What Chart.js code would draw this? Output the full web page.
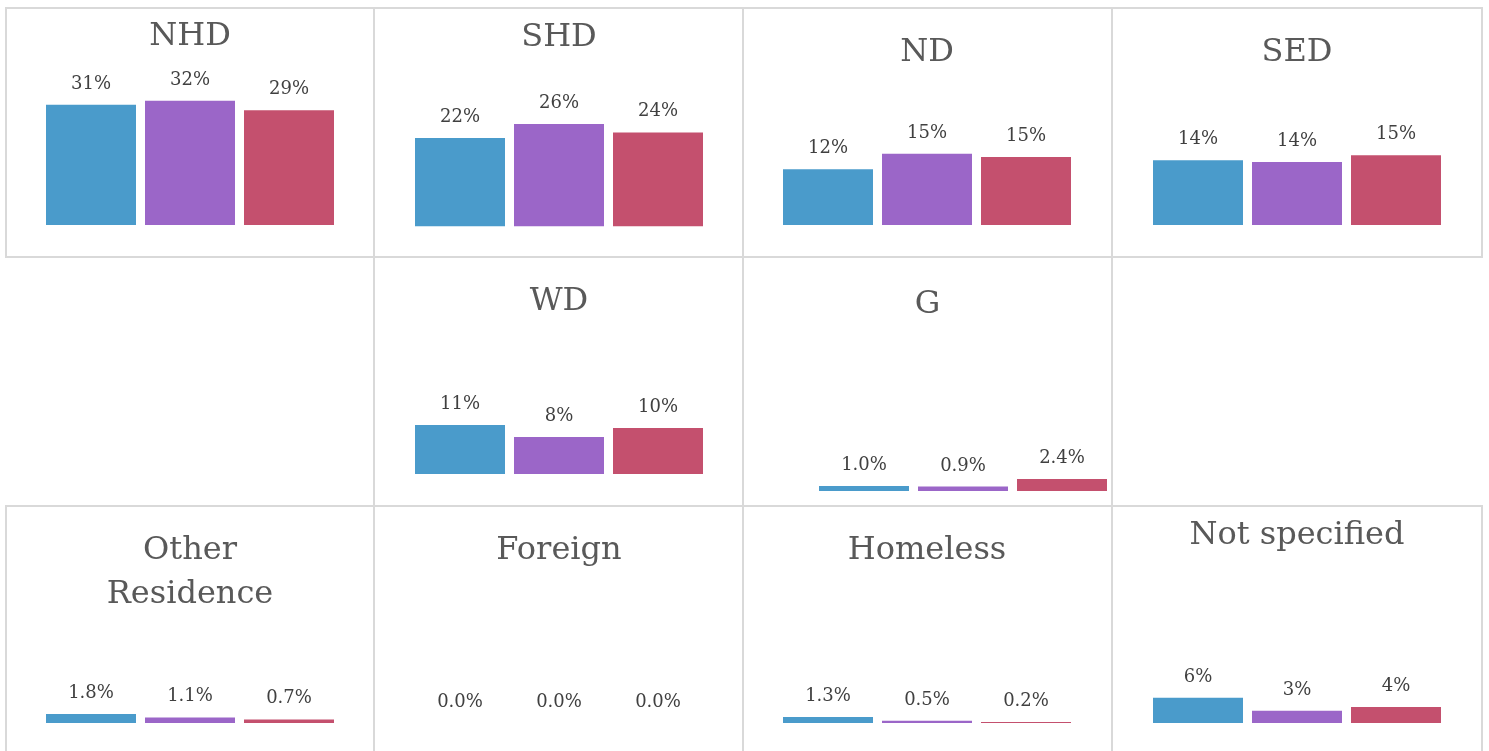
<!DOCTYPE html>
<html lang="en">
<head>
<meta charset="UTF-8">
<title>Residence breakdown</title>
<script src="https://cdn.jsdelivr.net/npm/chart.js"></script>
<style>
  html, body { margin: 0; padding: 0; background: #fff; overflow: hidden; }
  body { width: 1489px; height: 751px; position: relative; }
  .panel { position: absolute; box-shadow: inset 0 0 0 2px #d9d9d9; }
  .panel canvas { position: absolute; left: 0; top: 0; }
</style>
</head>
<body>
<script>
// three groups per panel (no legend in the original)
const groups = ['Group 1', 'Group 2', 'Group 3'];
const barColors = ['#4a9bcb', '#9b66c8', '#c4506e'];

// values in percent, one array per panel
const nhd          = [30.8, 31.8, 29.4];
const shd          = [22.4, 25.9, 23.8];
const nd           = [12.0, 15.3, 14.6];
const sed          = [14.1, 13.7, 15.2];
const wd           = [10.9, 8.2, 10.2];
const g            = [1.0, 0.9, 2.4];
const otherRes     = [1.8, 1.1, 0.7];
const foreign      = [0.0, 0.0, 0.0];
const homeless     = [1.3, 0.5, 0.2];
const notSpecified = [6.0, 2.9, 3.8];

const titles = ['NHD', 'SHD', 'ND', 'SED', 'WD', 'G', ['Other', 'Residence'], 'Foreign', 'Homeless', 'Not specified'];
const series = [nhd, shd, nd, sed, wd, g, otherRes, foreign, homeless, notSpecified];
const labelDecimals = [0, 0, 0, 0, 0, 1, 1, 1, 1, 0];

// panel boxes and inner layout:
// [left, top, width, height, padLeft, padRight, padBottom, titlePadTop, yMax, leftGap]
const boxes = [
  [5,    7,   370, 251, 36.5, 36.5, 33,   7.2, 42.6, 0],
  [373,  7,   371, 251, 37.5, 36.5, 31.5, 8.2, 42.2, 0],
  [742,  7,   371, 251, 36.5, 37.5, 33,  23.2, 32.3, 0],
  [1111, 7,   372, 251, 37.5, 37.5, 33,  23.2, 32.7, 0],
  [373,  256, 371, 251, 37.5, 36.5, 33,  23.7, 33.3, 0],
  [742,  256, 371, 251, 1.5,  1.5,  16,  26.2, 32.9, 71],
  [5,    505, 370, 250, 36.5, 36.5, 32,  23.2, 21.1, 0],
  [373,  505, 371, 250, 37.5, 36.5, 32,  23.2, 30,   0],
  [742,  505, 371, 250, 36.5, 37.5, 32,  23.2, 32.7, 0],
  [1111, 505, 372, 250, 37.5, 37.5, 32,   8.2, 39.3, 0]
];

const valueLabels = {
  id: 'valueLabels',
  afterDatasetsDraw(chart, args, opts) {
    const ctx = chart.ctx;
    const meta = chart.getDatasetMeta(0);
    const data = chart.data.datasets[0].data;
    ctx.save();
    ctx.font = '18px "DejaVu Serif", serif';
    ctx.fillStyle = '#404040';
    ctx.textAlign = 'center';
    ctx.textBaseline = 'alphabetic';
    meta.data.forEach((bar, i) => {
      ctx.fillText(data[i].toFixed(opts.decimals) + '%', bar.x, bar.y - 16);
    });
    ctx.restore();
  }
};

series.forEach((values, i) => {
  const [left, top, w, h, pl, pr, pb, tp, yMax, gap] = boxes[i];
  const panel = document.createElement('div');
  panel.className = 'panel';
  panel.style.left = left + 'px';
  panel.style.top = top + 'px';
  panel.style.width = w + 'px';
  panel.style.height = h + 'px';
  const canvas = document.createElement('canvas');
  canvas.width = w;
  canvas.height = h;
  panel.appendChild(canvas);
  document.body.appendChild(panel);

  new Chart(canvas, {
    type: 'bar',
    data: {
      labels: groups,
      datasets: [{
        data: values,
        backgroundColor: barColors,
        borderWidth: 0,
        barPercentage: 1,
        categoryPercentage: 90 / 99
      }]
    },
    options: {
      responsive: false,
      animation: false,
      layout: { padding: { left: pl, right: pr, top: 0, bottom: pb } },
      scales: {
        x: { display: false },
        y: {
          // hidden axis; in the G panel it only reserves empty room on the left
          display: gap > 0,
          min: 0,
          max: yMax,
          grid: { display: false },
          border: { display: false },
          ticks: { display: false },
          afterFit(scale) { scale.width = gap; }
        }
      },
      plugins: {
        legend: { display: false },
        tooltip: { enabled: false },
        title: {
          display: true,
          text: titles[i],
          color: '#595959',
          font: { family: '"DejaVu Serif", serif', size: 32, weight: 'normal', lineHeight: 1.39 },
          padding: { top: tp, bottom: 0 }
        },
        valueLabels: { decimals: labelDecimals[i] }
      }
    },
    plugins: [valueLabels]
  });
});
</script>
</body>
</html>
